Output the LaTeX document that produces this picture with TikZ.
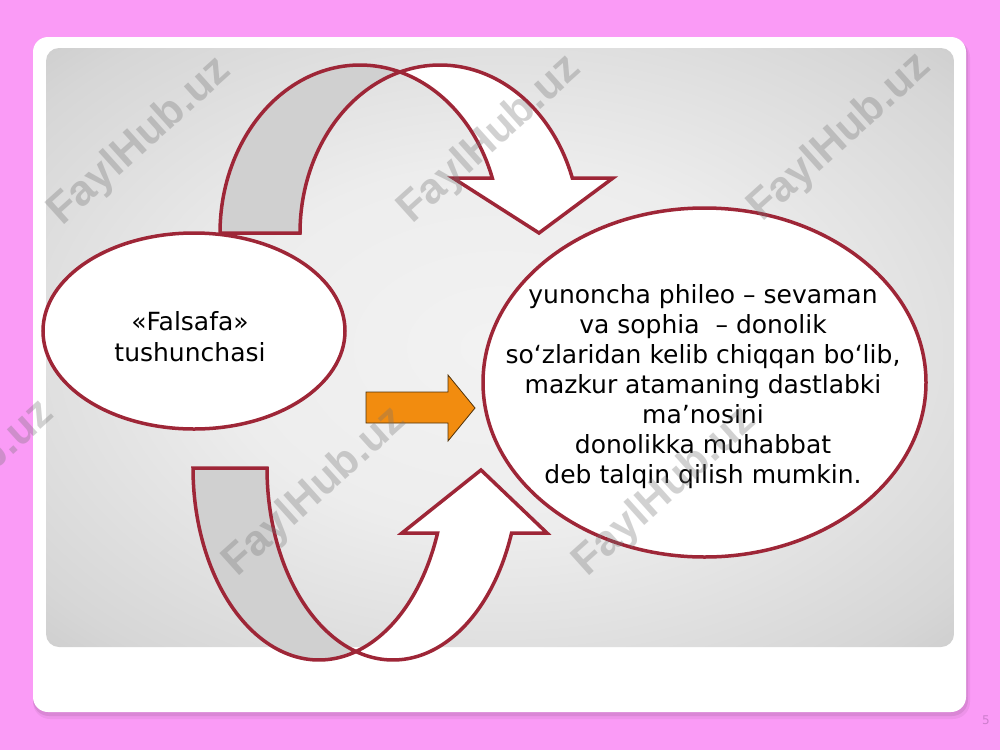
\documentclass[tikz,border=0pt]{standalone}
\usepackage{fontspec}
\setmainfont{DejaVu Sans}
\newfontfamily\wmfont{Liberation Sans}
\usetikzlibrary{shapes.geometric}
\definecolor{pinkbg}{RGB}{250,155,246}
\definecolor{arrowred}{RGB}{158,38,55}
\definecolor{backgray}{RGB}{208,208,208}
\definecolor{orangefill}{RGB}{242,140,15}
\definecolor{orangeline}{RGB}{80,50,10}
\definecolor{pagenum}{RGB}{205,125,205}
\pgfdeclareradialshading{panelshade}{\pgfpoint{0bp}{0bp}}{rgb(0bp)=(0.95,0.95,0.95); rgb(15bp)=(0.93,0.93,0.93); rgb(32bp)=(0.84,0.84,0.84); rgb(48bp)=(0.71,0.71,0.71); rgb(71bp)=(0.58,0.58,0.58)}
\tikzset{
  band/.style={draw=arrowred, line width=3.5pt, line join=miter},
  oval/.style={ellipse, draw=arrowred, line width=3.5pt, fill=white, inner sep=0pt},
  bodytext/.style={align=center, text=black},
  wm/.style={font=\wmfont\bfseries\fontsize{43}{43}\selectfont, text=black!55, text opacity=0.32, rotate=42},
}
\begin{document}
\begin{tikzpicture}[x=1pt,y=-1pt]
\useasboundingbox (0,0) rectangle (1000,750);
% background and panels
\fill[pinkbg] (0,0) rectangle (1000,750);
\fill[black, opacity=0.05, rounded corners=17pt] (33,40) rectangle (970,719);
\fill[black, opacity=0.08, rounded corners=16pt] (33,39) rectangle (968,716);
\fill[white, rounded corners=15pt] (33,37) rectangle (966,712);
\shade[shading=panelshade, rounded corners=13pt] (46,48) rectangle (954,647);
% top curved arrow
\filldraw[band, fill=backgray]
  plot[domain=180:73.4, samples=60] ({360+140*cos(\x)}, {233-168*sin(\x)})
  -- plot[domain=106.6:180, samples=60] ({440+140*cos(\x)}, {233-168*sin(\x)})
  -- cycle;
\filldraw[band, fill=white]
  plot[domain=106.6:19.11, samples=60] ({440+140*cos(\x)}, {233-168*sin(\x)})
  -- (613,178) -- (539,233) -- (453,178)
  -- plot[domain=19.11:73.4, samples=50] ({360+140*cos(\x)}, {233-168*sin(\x)})
  -- cycle;
% bottom curved arrow
\filldraw[band, fill=backgray]
  plot[domain=180:72.92, samples=60] ({319+126*cos(\x)}, {468+192*sin(\x)})
  -- plot[domain=107.08:180, samples=60] ({393+126*cos(\x)}, {468+192*sin(\x)})
  -- cycle;
\filldraw[band, fill=white]
  plot[domain=107.08:19.79, samples=60] ({393+126*cos(\x)}, {468+192*sin(\x)})
  -- (547,533) -- (481,470) -- (402,533)
  -- plot[domain=19.79:72.92, samples=50] ({319+126*cos(\x)}, {468+192*sin(\x)})
  -- cycle;
% orange arrow
\filldraw[fill=orangefill, draw=orangeline, line width=0.8pt, line join=miter]
  (366,392) -- (448,392) -- (448,375) -- (475,408) -- (448,441) -- (448,423) -- (366,423) -- cycle;
% ellipses
\node[oval, minimum width=302pt, minimum height=196pt] (leftoval) at (194,331) {};
\node[oval, minimum width=443pt, minimum height=349pt] (rightoval) at (704.5,382.5) {};
\node[bodytext, font=\fontsize{25}{31}\selectfont] (lefttext) at (190,337) {«Falsafa»\\tushunchasi};
\node[bodytext, font=\fontsize{25}{30}\selectfont] (righttext) at (703,387)
  {yunoncha phileo – sevaman\\ va sophia\ \ – donolik\\ so‘zlaridan kelib chiqqan bo‘lib,\\ mazkur atamaning dastlabki\\ ma’nosini\\ donolikka muhabbat\\ deb talqin qilish mumkin.};
% watermarks
\node[wm] (wm1) at (140,142) {FaylHub.uz};
\node[wm] (wm2) at (490,140) {FaylHub.uz};
\node[wm] (wm3) at (840,138) {FaylHub.uz};
\node[wm] (wm4) at (-37,485) {FaylHub.uz};
\node[wm] (wm5) at (315,492) {FaylHub.uz};
\node[wm] (wm6) at (665,492) {FaylHub.uz};
% page number
\node[text=pagenum, font=\fontsize{12}{12}\selectfont] (pnum) at (986,720) {5};
\end{tikzpicture}
\end{document}
